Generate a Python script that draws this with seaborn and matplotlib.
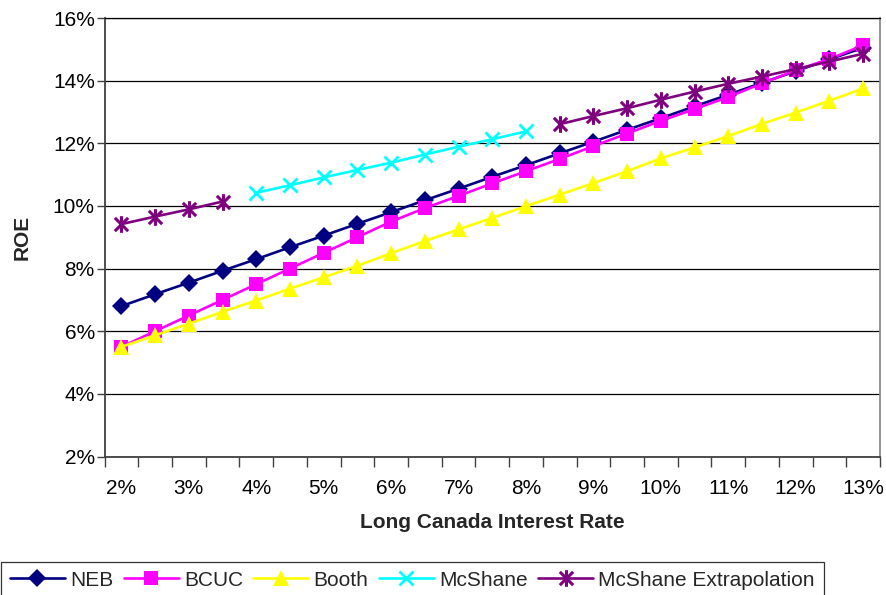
import matplotlib
matplotlib.use("Agg")
import matplotlib.pyplot as plt
from matplotlib.lines import Line2D
from matplotlib.path import Path
from matplotlib.ticker import FixedLocator, FuncFormatter
import numpy as np
import pandas as pd
import seaborn as sns

# Long Canada interest rate (%)
rates = [2.0, 2.5, 3.0, 3.5, 4.0, 4.5, 5.0, 5.5, 6.0, 6.5, 7.0, 7.5,
         8.0, 8.5, 9.0, 9.5, 10.0, 10.5, 11.0, 11.5, 12.0, 12.5, 13.0]

# Allowed ROE (%) under each approach
neb = [6.80, 7.18, 7.55, 7.93, 8.30, 8.68, 9.05, 9.43, 9.80, 10.18, 10.55, 10.93,
       11.30, 11.68, 12.05, 12.43, 12.80, 13.18, 13.55, 13.93, 14.30, 14.68, 15.05]
bcuc = [5.50, 6.00, 6.50, 7.00, 7.50, 8.00, 8.50, 9.00, 9.50, 9.93, 10.32, 10.72,
        11.11, 11.50, 11.91, 12.31, 12.72, 13.09, 13.48, 13.91, 14.33, 14.69, 15.13]
booth = [5.50, 5.87, 6.24, 6.62, 6.98, 7.36, 7.72, 8.09, 8.49, 8.88, 9.25, 9.62,
         9.99, 10.36, 10.73, 11.11, 11.52, 11.87, 12.23, 12.62, 12.98, 13.36, 13.75]
mcshane = [None, None, None, None, 10.42, 10.66, 10.91, 11.15, 11.38, 11.64, 11.89, 12.13,
           12.38, None, None, None, None, None, None, None, None, None, None]
mcshane_ext = [9.42, 9.66, 9.89, 10.14, None, None, None, None, None, None, None, None,
               None, 12.61, 12.87, 13.12, 13.39, 13.65, 13.90, 14.13, 14.37, 14.61, 14.86]

series_names = ["NEB", "BCUC", "Booth", "McShane", "McShane Extrapolation"]
series_values = [neb, bcuc, booth, mcshane, mcshane_ext]

x_ticks = [2, 3, 4, 5, 6, 7, 8, 9, 10, 11, 12, 13]
y_ticks = [2, 4, 6, 8, 10, 12, 14, 16]

sns.set_theme(style="white")
plt.rcParams["font.family"] = ["Liberation Sans", "DejaVu Sans"]

# Excel-style asterisk: an X crossed by a vertical stroke
asterisk = Path([(-1, -1), (1, 1), (-1, 1), (1, -1), (0, -1.25), (0, 1.25)],
                [Path.MOVETO, Path.LINETO, Path.MOVETO, Path.LINETO, Path.MOVETO, Path.LINETO])

styles = {
    "NEB": dict(color="#000080", marker="D", markersize=9.5, markeredgewidth=0),
    "BCUC": dict(color="#FF00FF", marker="s", markersize=10.5, markeredgewidth=0),
    "Booth": dict(color="#FFFF00", marker="^", markersize=11.5, markeredgewidth=0),
    "McShane": dict(color="#00FFFF", marker="x", markersize=10.5, markeredgewidth=2),
    "McShane Extrapolation": dict(color="#7F007F", marker=asterisk, markersize=12,
                                  markeredgewidth=2.2),
}

fig = plt.figure(figsize=(8.86, 5.95), dpi=100)
fig.patch.set_facecolor("white")
left, right, top, bottom = 104.5, 880.0, 18.0, 456.5
ax = fig.add_axes([left / 886, 1 - bottom / 595, (right - left) / 886, (bottom - top) / 595])

for name, vals in zip(series_names, series_values):
    df = pd.DataFrame({"rate": rates, "roe": [np.nan if v is None else v for v in vals]})
    # split into contiguous runs so gaps stay open
    df["segment"] = df["roe"].isna().cumsum()
    df = df.dropna()
    st = styles[name]
    sns.lineplot(data=df, x="rate", y="roe", units="segment", estimator=None,
                 color=st["color"], marker=st["marker"], markersize=st["markersize"],
                 markeredgewidth=st["markeredgewidth"], markeredgecolor=st["color"],
                 markerfacecolor=st["color"], linewidth=1.9, ax=ax, legend=False)

ax.set_xlim(1.75, 13.25)
ax.set_ylim(2, 16)

ax.xaxis.set_major_locator(FixedLocator(x_ticks))
ax.xaxis.set_major_formatter(FuncFormatter(lambda v, p: f"{v:.0f}%"))
ax.xaxis.set_minor_locator(FixedLocator(np.arange(1.75, 13.26, 0.5)))
ax.tick_params(axis="x", which="major", length=0, pad=16, labelsize=15, colors="black")
ax.tick_params(axis="x", which="minor", bottom=True, length=7, width=1, color="#404040",
               direction="out")

ax.yaxis.set_major_locator(FixedLocator(y_ticks))
ax.yaxis.set_major_formatter(FuncFormatter(lambda v, p: f"{v:.0f}%"))
ax.tick_params(axis="y", which="major", left=True, length=6, width=1, color="#404040",
               direction="out", pad=1, labelsize=15, labelcolor="black")

ax.grid(False)
ax.yaxis.grid(True, color="black", linewidth=0.9)
ax.set_axisbelow(True)

for side in ["left", "bottom"]:
    ax.spines[side].set_color("#404040")
    ax.spines[side].set_linewidth(1.3)
ax.spines["right"].set_color("#8c8c8c")
ax.spines["right"].set_linewidth(1.3)
ax.spines["top"].set_color("black")
ax.spines["top"].set_linewidth(0.9)

ax.set_xlabel("Long Canada Interest Rate", fontsize=15, fontweight="bold", va="center")
ax.xaxis.set_label_coords(0.5, (bottom - 523) / (bottom - top))
ax.set_ylabel("ROE", fontsize=15, fontweight="bold", va="center")
ax.yaxis.set_label_coords((22 - left) / (right - left), 0.5)

handles = []
for name in series_names:
    st = styles[name]
    handles.append(Line2D([], [], color=st["color"], linewidth=1.9, marker=st["marker"],
                          markersize=st["markersize"], markeredgewidth=st["markeredgewidth"],
                          markeredgecolor=st["color"], markerfacecolor=st["color"]))
leg = fig.legend(handles, series_names, loc="upper left",
                 bbox_to_anchor=(1 / 886, 1 - 562 / 595), ncol=5, frameon=True,
                 fancybox=False, edgecolor="black", fontsize=15, handlelength=2.64,
                 handletextpad=0.25, columnspacing=0.5, borderaxespad=0, borderpad=0.42)
leg.get_frame().set_linewidth(0.9)

fig.savefig("out.png", dpi=100, facecolor="white")
